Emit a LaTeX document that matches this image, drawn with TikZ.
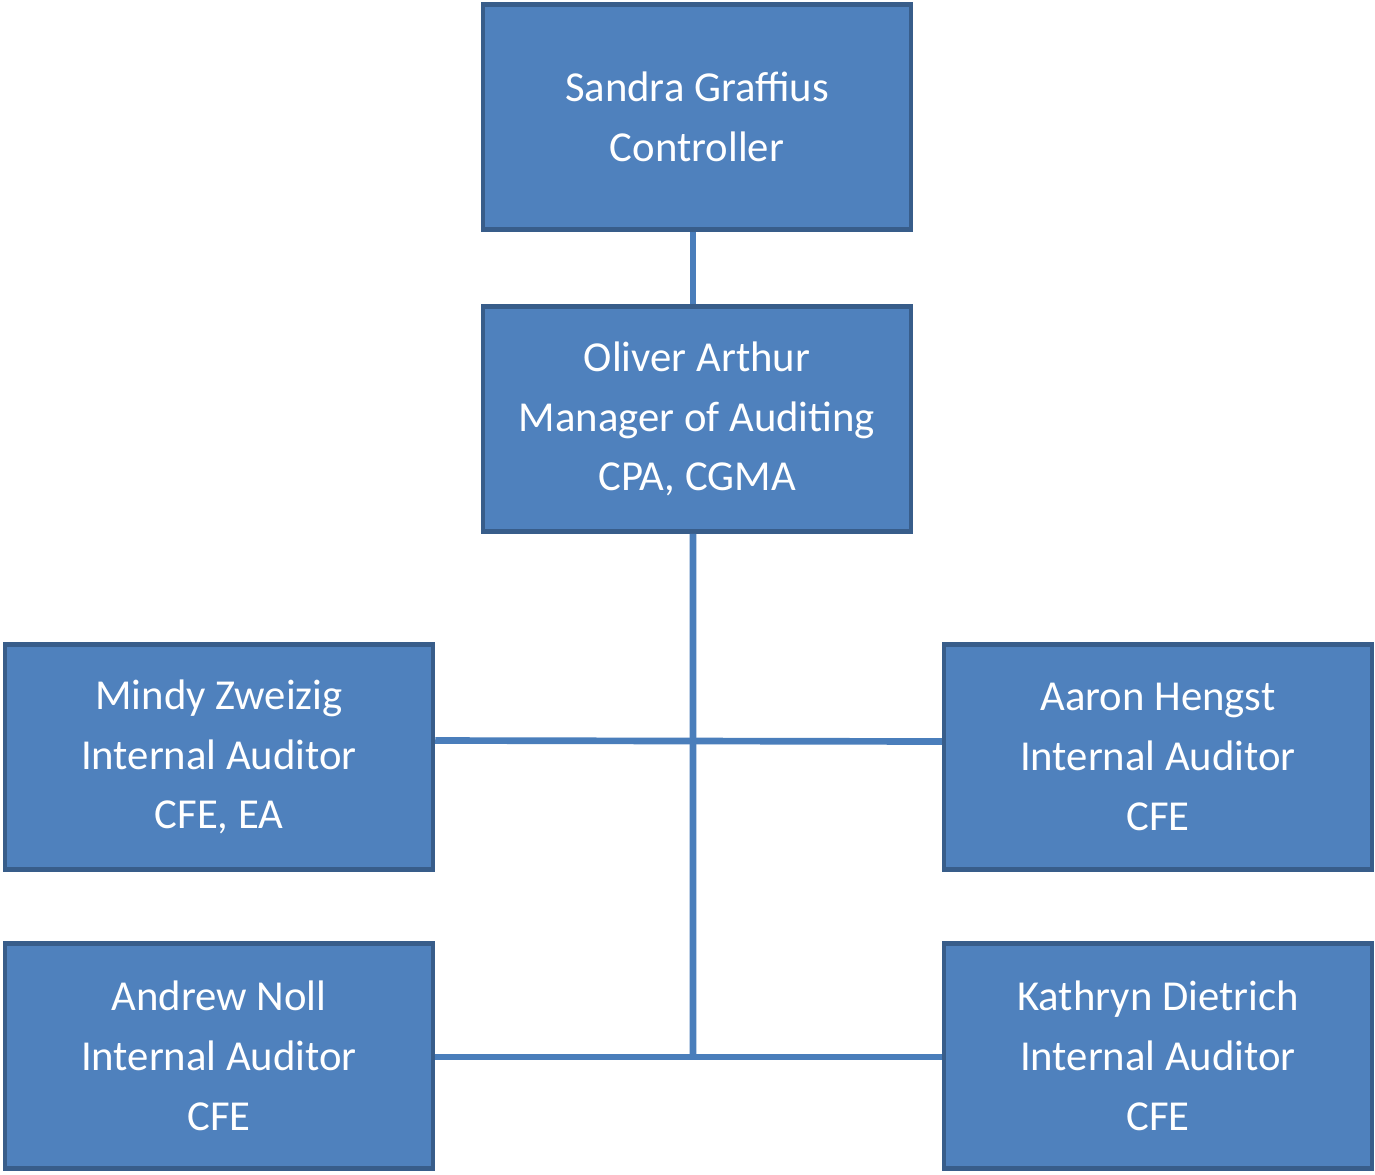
\documentclass[tikz,border=0pt]{standalone}
\usepackage{fontspec}
\setmainfont{Carlito}
\usetikzlibrary{positioning}
\definecolor{boxfill}{HTML}{4F81BD}
\definecolor{boxline}{HTML}{385D8A}
\definecolor{linkblue}{HTML}{4A7EBB}
\begin{document}
\begin{tikzpicture}[x=0.02cm, y=-0.02cm,
    person/.style={draw=boxline, line width=2.6pt, fill=boxfill, text=white,
      minimum width=8.56cm, minimum height=4.5cm, align=center,
      font=\fontsize{24.3}{34}\selectfont},
    link/.style={draw=linkblue, line width=3.8pt}]
  \useasboundingbox (0,0) rectangle (1375,1174);
  \node[person] (sandra) at (697,117) {Sandra Graffius\\Controller};
  \node[person] (oliver) at (697,419) {Oliver Arthur\\Manager of Auditing\\CPA, CGMA};
  \node[person] (mindy) at (219,757) {Mindy Zweizig\\Internal Auditor\\CFE, EA};
  \node[person] (aaron) at (1158,757) {Aaron Hengst\\Internal Auditor\\CFE};
  \node[person] (andrew) at (219,1056) {Andrew Noll\\Internal Auditor\\CFE};
  \node[person] (kathryn) at (1158,1056) {Kathryn Dietrich\\Internal Auditor\\CFE};
  \coordinate (trunk) at (693,1057);
  \draw[link] ([xshift=-0.08cm]sandra.south) -- ([xshift=-0.08cm]oliver.north);
  \draw[link] ([xshift=-0.08cm]oliver.south) -- (trunk);
  \draw[link] ([yshift=0.33cm]mindy.east) -- ([yshift=0.31cm]aaron.west);
  \draw[link] (andrew.east |- trunk) -- (kathryn.west |- trunk);
\end{tikzpicture}
\end{document}
